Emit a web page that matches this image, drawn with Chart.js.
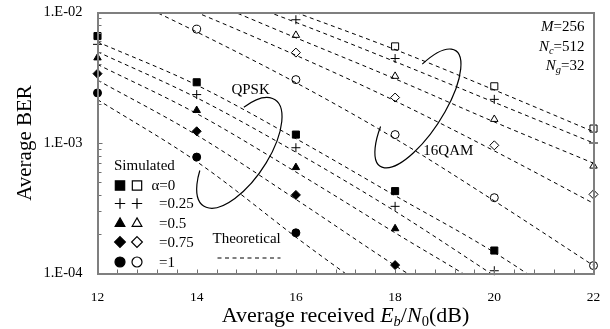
<!DOCTYPE html>
<html><head><meta charset="utf-8">
<script src="https://cdn.jsdelivr.net/npm/chart.js@4/dist/chart.umd.min.js"></script>
<style>html,body{margin:0;padding:0;background:#fff;}#wrap{width:610px;height:329px;}</style>
</head><body><div id="wrap"><canvas id="c" width="610" height="329"></canvas></div>
<script>
// ---------- data ----------
const ebn0 = [12, 14, 16, 18, 20, 22];               // Average received Eb/N0 (dB)
const xTickLabels = ['12', '14', '16', '18', '20', '22'];
const yTickValues = [1e-4, 1e-3, 1e-2];
const yTickLabels = ['1.E-04', '1.E-03', '1.E-02'];
const alphaLabels = ['\u03b1=0', '=0.25', '=0.5', '=0.75', '=1'];

// simulated, QPSK (filled markers)
const qpskSimA0   = [6.6e-3, 2.92e-3, 1.16e-3, 4.28e-4, 1.5e-4, null];
const qpskSimA025 = [5.7e-3, 2.35e-3, 9.2e-4, 3.27e-4, 1.05e-4, null];
const qpskSimA05  = [4.5e-3, 1.78e-3, 6.5e-4, 2.21e-4, null, null];
const qpskSimA075 = [3.4e-3, 1.23e-3, 4.0e-4, 1.16e-4, null, null];
const qpskSimA1   = [2.42e-3, 7.8e-4, 2.05e-4, null, null, null];
// simulated, 16QAM (open markers)
const qamSimA0   = [null, null, null, 5.5e-3, 2.72e-3, 1.29e-3];
const qamSimA025 = [null, null, 8.8e-3, 4.44e-3, 2.16e-3, 1.0e-3];
const qamSimA05  = [null, null, 6.7e-3, 3.25e-3, 1.52e-3, 6.67e-4];
const qamSimA075 = [null, null, 4.93e-3, 2.23e-3, 9.6e-4, 4.04e-4];
const qamSimA1   = [null, 7.45e-3, 3.06e-3, 1.16e-3, 3.81e-4, 1.15e-4];
// theoretical, QPSK
const qpskThA0   = [5.95e-3, 2.78e-3, 1.08e-3, 3.95e-4, 1.45e-4, 4.5e-5];
const qpskThA025 = [5.0e-3, 2.22e-3, 8.5e-4, 3.0e-4, 9.6e-5, 3.0e-5];
const qpskThA05  = [4.0e-3, 1.68e-3, 6.0e-4, 2.05e-4, 7.0e-5, 1.9e-5];
const qpskThA075 = [3.03e-3, 1.15e-3, 3.7e-4, 1.15e-4, 3.8e-5, 8e-6];
const qpskThA1   = [2.15e-3, 7.2e-4, 1.9e-4, 5.0e-5, 9e-6, 1.5e-6];
// theoretical, 16QAM
const qamThA0   = [3.4e-2, 1.9e-2, 1.0e-2, 5.2e-3, 2.55e-3, 1.22e-3];
const qamThA025 = [2.9e-2, 1.6e-2, 8.4e-3, 4.2e-3, 2.05e-3, 1.0e-3];
const qamThA05  = [2.5e-2, 1.32e-2, 6.4e-3, 3.1e-3, 1.45e-3, 7.0e-4];
const qamThA075 = [2.0e-2, 1.0e-2, 4.7e-3, 2.1e-3, 8.7e-4, 3.45e-4];
const qamThA1   = [1.65e-2, 7.1e-3, 2.9e-3, 1.08e-3, 3.6e-4, 1.15e-4];

// ---------- styles ----------
const FONT = "'Liberation Serif','Times New Roman',serif";
const markerStyles = ['rect', 'cross', 'triangle', 'rectRot', 'circle'];
const markerRadius = [5, 4.5, 4.3, 4.5, 4];
const legendRadius = [6.6, 5.2, 5.6, 5.4, 5];

const toPts = arr => ebn0.map((x, i) => ({x, y: arr[i]})).filter(p => p.y != null);

const qpskSim = [qpskSimA0, qpskSimA025, qpskSimA05, qpskSimA075, qpskSimA1];
const qamSim = [qamSimA0, qamSimA025, qamSimA05, qamSimA075, qamSimA1];
const qpskTh = [qpskThA0, qpskThA025, qpskThA05, qpskThA075, qpskThA1];
const qamTh = [qamThA0, qamThA025, qamThA05, qamThA075, qamThA1];

const datasets = [];
[...qpskTh, ...qamTh].forEach((arr, i) => datasets.push({
  label: 'Theoretical ' + i, data: toPts(arr), borderColor: '#000', borderWidth: 1,
  borderDash: [4, 3.5], pointRadius: 0, cubicInterpolationMode: 'monotone', fill: false
}));
qpskSim.forEach((arr, i) => datasets.push({
  label: 'QPSK ' + alphaLabels[i], data: toPts(arr), showLine: false, clip: false,
  pointStyle: markerStyles[i], pointRadius: markerRadius[i], pointBackgroundColor: '#000',
  pointBorderColor: '#000', pointBorderWidth: 1
}));
qamSim.forEach((arr, i) => datasets.push({
  label: '16QAM ' + alphaLabels[i], data: toPts(arr), showLine: false, clip: false,
  pointStyle: markerStyles[i], pointRadius: markerRadius[i], pointBackgroundColor: '#fff',
  pointBorderColor: '#000', pointBorderWidth: 1
}));

// ---------- decoration helpers ----------
function marker(ctx, style, x, y, r, filled) {
  ctx.save();
  ctx.fillStyle = filled ? '#000' : '#fff';
  ctx.strokeStyle = '#000';
  ctx.lineWidth = 1.2;
  ctx.beginPath();
  if (style === 'rect') { const s = r * Math.SQRT1_2; ctx.rect(x - s, y - s, 2 * s, 2 * s); }
  else if (style === 'triangle') {
    ctx.moveTo(x, y - r); ctx.lineTo(x + r * 0.866, y + r / 2); ctx.lineTo(x - r * 0.866, y + r / 2); ctx.closePath();
  } else if (style === 'rectRot') {
    ctx.moveTo(x, y - r); ctx.lineTo(x + r, y); ctx.lineTo(x, y + r); ctx.lineTo(x - r, y); ctx.closePath();
  } else if (style === 'circle') { ctx.arc(x, y, r, 0, Math.PI * 2); }
  if (style === 'cross') {
    ctx.moveTo(x - r, y); ctx.lineTo(x + r, y); ctx.moveTo(x, y - r); ctx.lineTo(x, y + r); ctx.stroke();
  } else { ctx.fill(); ctx.stroke(); }
  ctx.restore();
}
function richText(ctx, parts, x, y, align) {
  // parts: [text, sizePx, italic, dy]
  const w = parts.map(p => { ctx.font = (p[2] ? 'italic ' : '') + p[1] + 'px ' + FONT; return ctx.measureText(p[0]).width; });
  const total = w.reduce((a, b) => a + b, 0);
  let cx = align === 'center' ? x - total / 2 : align === 'right' ? x - total : x;
  ctx.textAlign = 'left'; ctx.textBaseline = 'alphabetic';
  parts.forEach((p, i) => { ctx.font = (p[2] ? 'italic ' : '') + p[1] + 'px ' + FONT; ctx.fillText(p[0], cx, y + (p[3] || 0)); cx += w[i]; });
}

// annotation anchors (data coordinates: [dB, BER]) and ellipse shapes (px)
const qpskLabelAt = [14.70, 2.55e-3];
const qamLabelAt = [18.57, 8.6e-4];
const qpskEllipseAt = [14.86, 8.4e-4];
const qamEllipseAt = [18.46, 1.84e-3];

const decor = {
  id: 'decor',
  afterDraw(chart) {
    const ctx = chart.ctx;
    const a = chart.chartArea;
    const xs = chart.scales.x, ys = chart.scales.y;
    ctx.save();
    ctx.setLineDash([]);
    ctx.globalAlpha = 1;
    // tick marks (inside), drawn as filled rectangles
    ctx.fillStyle = '#707070';
    for (let i = 0; i <= 25; i++) {
      const p = Math.round(xs.getPixelForValue(12 + 0.4 * i));
      ctx.fillRect(p, a.bottom - 4, 1, 4);
    }
    for (let e = -4; e < -2; e++) for (let m = 1; m < 10; m++) {
      const p = Math.round(ys.getPixelForValue(m * Math.pow(10, e)));
      ctx.fillRect(a.left, p, m === 1 ? 5 : 4, 1);
    }
    // frame as filled bars
    ctx.fillStyle = '#7f7f7f';
    const L = Math.round(a.left) - 1, T = Math.round(a.top) - 1, R = Math.round(a.right) - 1, B = Math.round(a.bottom) - 1;
    ctx.fillRect(L, T, R - L + 2, 2);
    ctx.fillRect(L, B, R - L + 2, 2);
    ctx.fillRect(L, T, 2, B - T + 2);
    ctx.fillRect(R, T, 2, B - T + 2);

    ctx.fillStyle = '#000'; ctx.strokeStyle = '#000';
    // ellipses
    ctx.lineWidth = 1.2;
    const d2r = Math.PI / 180;
    ctx.beginPath();
    ctx.ellipse(xs.getPixelForValue(qpskEllipseAt[0]), ys.getPixelForValue(qpskEllipseAt[1]), 64, 28, -56 * d2r, -51 * d2r, 235 * d2r);
    ctx.stroke();
    ctx.beginPath();
    ctx.ellipse(xs.getPixelForValue(qamEllipseAt[0]), ys.getPixelForValue(qamEllipseAt[1]), 69, 25, -57 * d2r, -55 * d2r, 239 * d2r);
    ctx.stroke();

    // group labels
    ctx.font = '15px ' + FONT; ctx.textAlign = 'left'; ctx.textBaseline = 'middle';
    ctx.fillText('QPSK', xs.getPixelForValue(qpskLabelAt[0]), ys.getPixelForValue(qpskLabelAt[1]));
    ctx.fillText('16QAM', xs.getPixelForValue(qamLabelAt[0]), ys.getPixelForValue(qamLabelAt[1]));

    // parameters, top right
    const rx = a.right - 9;
    richText(ctx, [['M', 15, true], ['=256', 15, false]], rx, a.top + 18.5, 'right');
    richText(ctx, [['N', 15, true], ['c', 10.5, true, 3], ['=512', 15, false]], rx, a.top + 38, 'right');
    richText(ctx, [['N', 15, true], ['g', 10.5, true, 3], ['=32', 15, false]], rx, a.top + 57.5, 'right');

    // legend
    const lx = a.left, ly = a.top;
    ctx.font = '15px ' + FONT; ctx.textAlign = 'left'; ctx.textBaseline = 'middle';
    ctx.fillText('Simulated', lx + 16.5, ly + 154);
    const rowY = [173, 191, 211, 229.5, 249.5];
    markerStyles.forEach((s, i) => {
      marker(ctx, s, lx + 22.5, ly + rowY[i], legendRadius[i], true);
      marker(ctx, s, lx + 39.5, ly + rowY[i], legendRadius[i], false);
      ctx.fillStyle = '#000';
      ctx.font = '15px ' + FONT; ctx.textAlign = 'left'; ctx.textBaseline = 'middle';
      ctx.fillText(alphaLabels[i], lx + (i === 0 ? 54 : 61.5), ly + rowY[i] + 1);
    });
    ctx.fillText('Theoretical', lx + 115, ly + 227);
    ctx.lineWidth = 1; ctx.setLineDash([4, 3.5]);
    ctx.beginPath(); ctx.moveTo(lx + 120, ly + 245.5); ctx.lineTo(lx + 183, ly + 245.5); ctx.stroke();
    ctx.setLineDash([]);

    // x-axis title
    ctx.fillStyle = '#000';
    const cx = (a.left + a.right) / 2;
    richText(ctx, [['Average received ', 22, false], ['E', 22, true], ['b', 14.5, true, 4], ['/', 22, false],
      ['N', 22, true], ['0', 14.5, false, 4], ['(dB)', 22, false]], cx, 322, 'center');
    ctx.restore();
  }
};

new Chart(document.getElementById('c'), {
  type: 'line',
  data: {datasets},
  plugins: [decor],
  options: {
    responsive: false, animation: false, devicePixelRatio: 1,
    layout: {padding: {left: 0, right: 16.5, top: 12.5, bottom: 0}},
    plugins: {legend: {display: false}, tooltip: {enabled: false}},
    scales: {
      x: {
        type: 'linear', min: 12, max: 22,
        ticks: {stepSize: 2, color: '#000', font: {family: FONT, size: 13.5}, padding: 16,
          callback: (v) => { const i = ebn0.indexOf(v); return i >= 0 ? xTickLabels[i] : ''; }},
        grid: {display: false, drawTicks: false}, border: {display: false},
        afterFit: s => { s.height = 55.5; s.paddingLeft = 0; s.paddingRight = 0; }
      },
      y: {
        type: 'logarithmic', min: 1e-4, max: 1e-2,
        afterBuildTicks: s => { s.ticks = yTickValues.map(v => ({value: v})); },
        ticks: {color: '#000', font: {family: FONT, size: 14.5}, padding: 15,
          callback: (v, i) => yTickLabels[i]},
        grid: {display: false, drawTicks: false}, border: {display: false},
        title: {display: true, text: 'Average BER', color: '#000', font: {family: FONT, size: 21},
          padding: {top: 12.4, bottom: 0}},
        afterFit: s => { s.width = 97.5; s.paddingTop = 0; s.paddingBottom = 0; }
      }
    }
  }
});
</script></body></html>
